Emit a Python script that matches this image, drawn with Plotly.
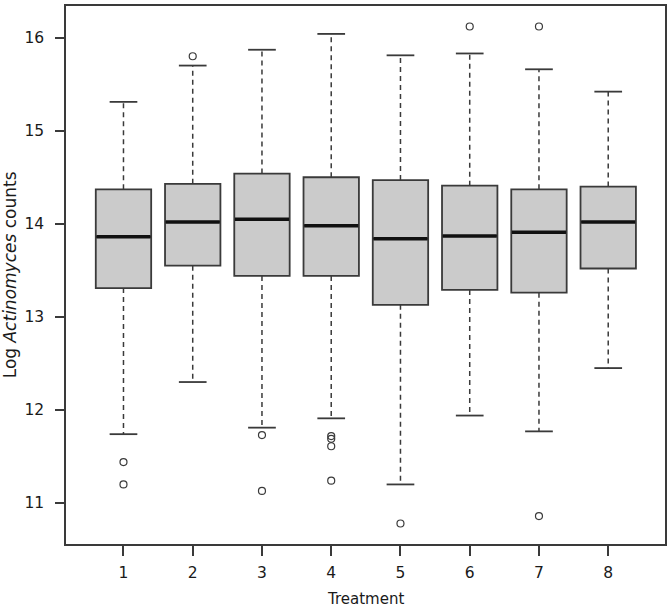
import plotly.graph_objects as go

treatments = [1, 2, 3, 4, 5, 6, 7, 8]
q1 = [13.31, 13.55, 13.44, 13.44, 13.13, 13.29, 13.26, 13.52]
median = [13.86, 14.02, 14.05, 13.98, 13.84, 13.87, 13.91, 14.02]
q3 = [14.37, 14.43, 14.54, 14.50, 14.47, 14.41, 14.37, 14.40]
lower_whisker = [11.74, 12.30, 11.81, 11.91, 11.20, 11.94, 11.77, 12.45]
upper_whisker = [15.31, 15.70, 15.87, 16.04, 15.81, 15.83, 15.66, 15.42]
outlier_x = [1, 1, 2, 3, 3, 4, 4, 4, 4, 5, 6, 7, 7]
outlier_y = [11.44, 11.20, 15.80, 11.73, 11.13, 11.72, 11.69, 11.61, 11.24, 10.78, 16.12, 16.12, 10.86]

y_ticks = [11, 12, 13, 14, 15, 16]

FONT = "DejaVu Sans, Liberation Sans, Arial, sans-serif"
TXT = "#1a1a1a"
EDGE = "#3a3a3a"

fig = go.Figure()

# boxes
fig.add_trace(go.Box(
    x=treatments, q1=q1, median=median, q3=q3,
    lowerfence=q1, upperfence=q3,
    width=0.8, fillcolor="#cbcbcb",
    line=dict(color=EDGE, width=1.8),
    boxpoints=False, hoverinfo="skip", showlegend=False,
))

# whiskers (dashed) and caps
for i, t in enumerate(treatments):
    for a, b in ((q3[i], upper_whisker[i]), (q1[i], lower_whisker[i])):
        fig.add_trace(go.Scatter(
            x=[t, t], y=[a, b], mode="lines",
            line=dict(color=EDGE, width=1.5, dash="5px,4px"),
            showlegend=False, hoverinfo="skip",
        ))
    for v in (upper_whisker[i], lower_whisker[i]):
        fig.add_trace(go.Scatter(
            x=[t - 0.2, t + 0.2], y=[v, v], mode="lines",
            line=dict(color=EDGE, width=1.8),
            showlegend=False, hoverinfo="skip",
        ))
    # thick median
    fig.add_trace(go.Scatter(
        x=[t - 0.39, t + 0.39], y=[median[i], median[i]], mode="lines",
        line=dict(color="#111111", width=3.5),
        showlegend=False, hoverinfo="skip",
    ))

# outliers
fig.add_trace(go.Scatter(
    x=outlier_x, y=outlier_y, mode="markers",
    marker=dict(symbol="circle-open", size=7, color=EDGE, line=dict(width=1.2)),
    showlegend=False, hoverinfo="skip",
))

fig.update_layout(
    width=669, height=611,
    margin=dict(l=66, r=2, t=6, b=67),
    paper_bgcolor="white", plot_bgcolor="white",
    font=dict(family=FONT, size=15, color=TXT),
    xaxis=dict(
        range=[0.17, 8.82], tickvals=treatments, ticktext=[str(t) for t in treatments],
        ticks="outside", ticklen=10, tickwidth=1.5, tickcolor=EDGE,
        showline=True, linecolor=EDGE, linewidth=1.5, mirror=True,
        showgrid=False, zeroline=False, ticklabelstandoff=4,
        tickfont=dict(family=FONT, size=15.5, color=TXT),
    ),
    yaxis=dict(
        range=[10.56, 16.34], tickvals=y_ticks, ticktext=[str(v) for v in y_ticks],
        ticks="outside", ticklen=9, tickwidth=1.5, tickcolor=EDGE,
        showline=True, linecolor=EDGE, linewidth=1.5, mirror=True,
        showgrid=False, zeroline=False, ticklabelstandoff=8,
        tickfont=dict(family=FONT, size=15.5, color=TXT),
    ),
    annotations=[
        dict(text="Log <i>Actinomyces</i> counts", xref="paper", yref="paper",
             x=-0.093, y=0.5, xanchor="center", yanchor="middle", textangle=-90,
             showarrow=False, font=dict(family=FONT, size=17, color=TXT)),
        dict(text="Treatment", xref="paper", yref="paper",
             x=0.5, y=-0.102, xanchor="center", yanchor="middle",
             showarrow=False, font=dict(family=FONT, size=15, color=TXT)),
    ],
)

fig.write_html("out.html", config={"displayModeBar": False},
               post_script="document.body.style.margin='0';")
